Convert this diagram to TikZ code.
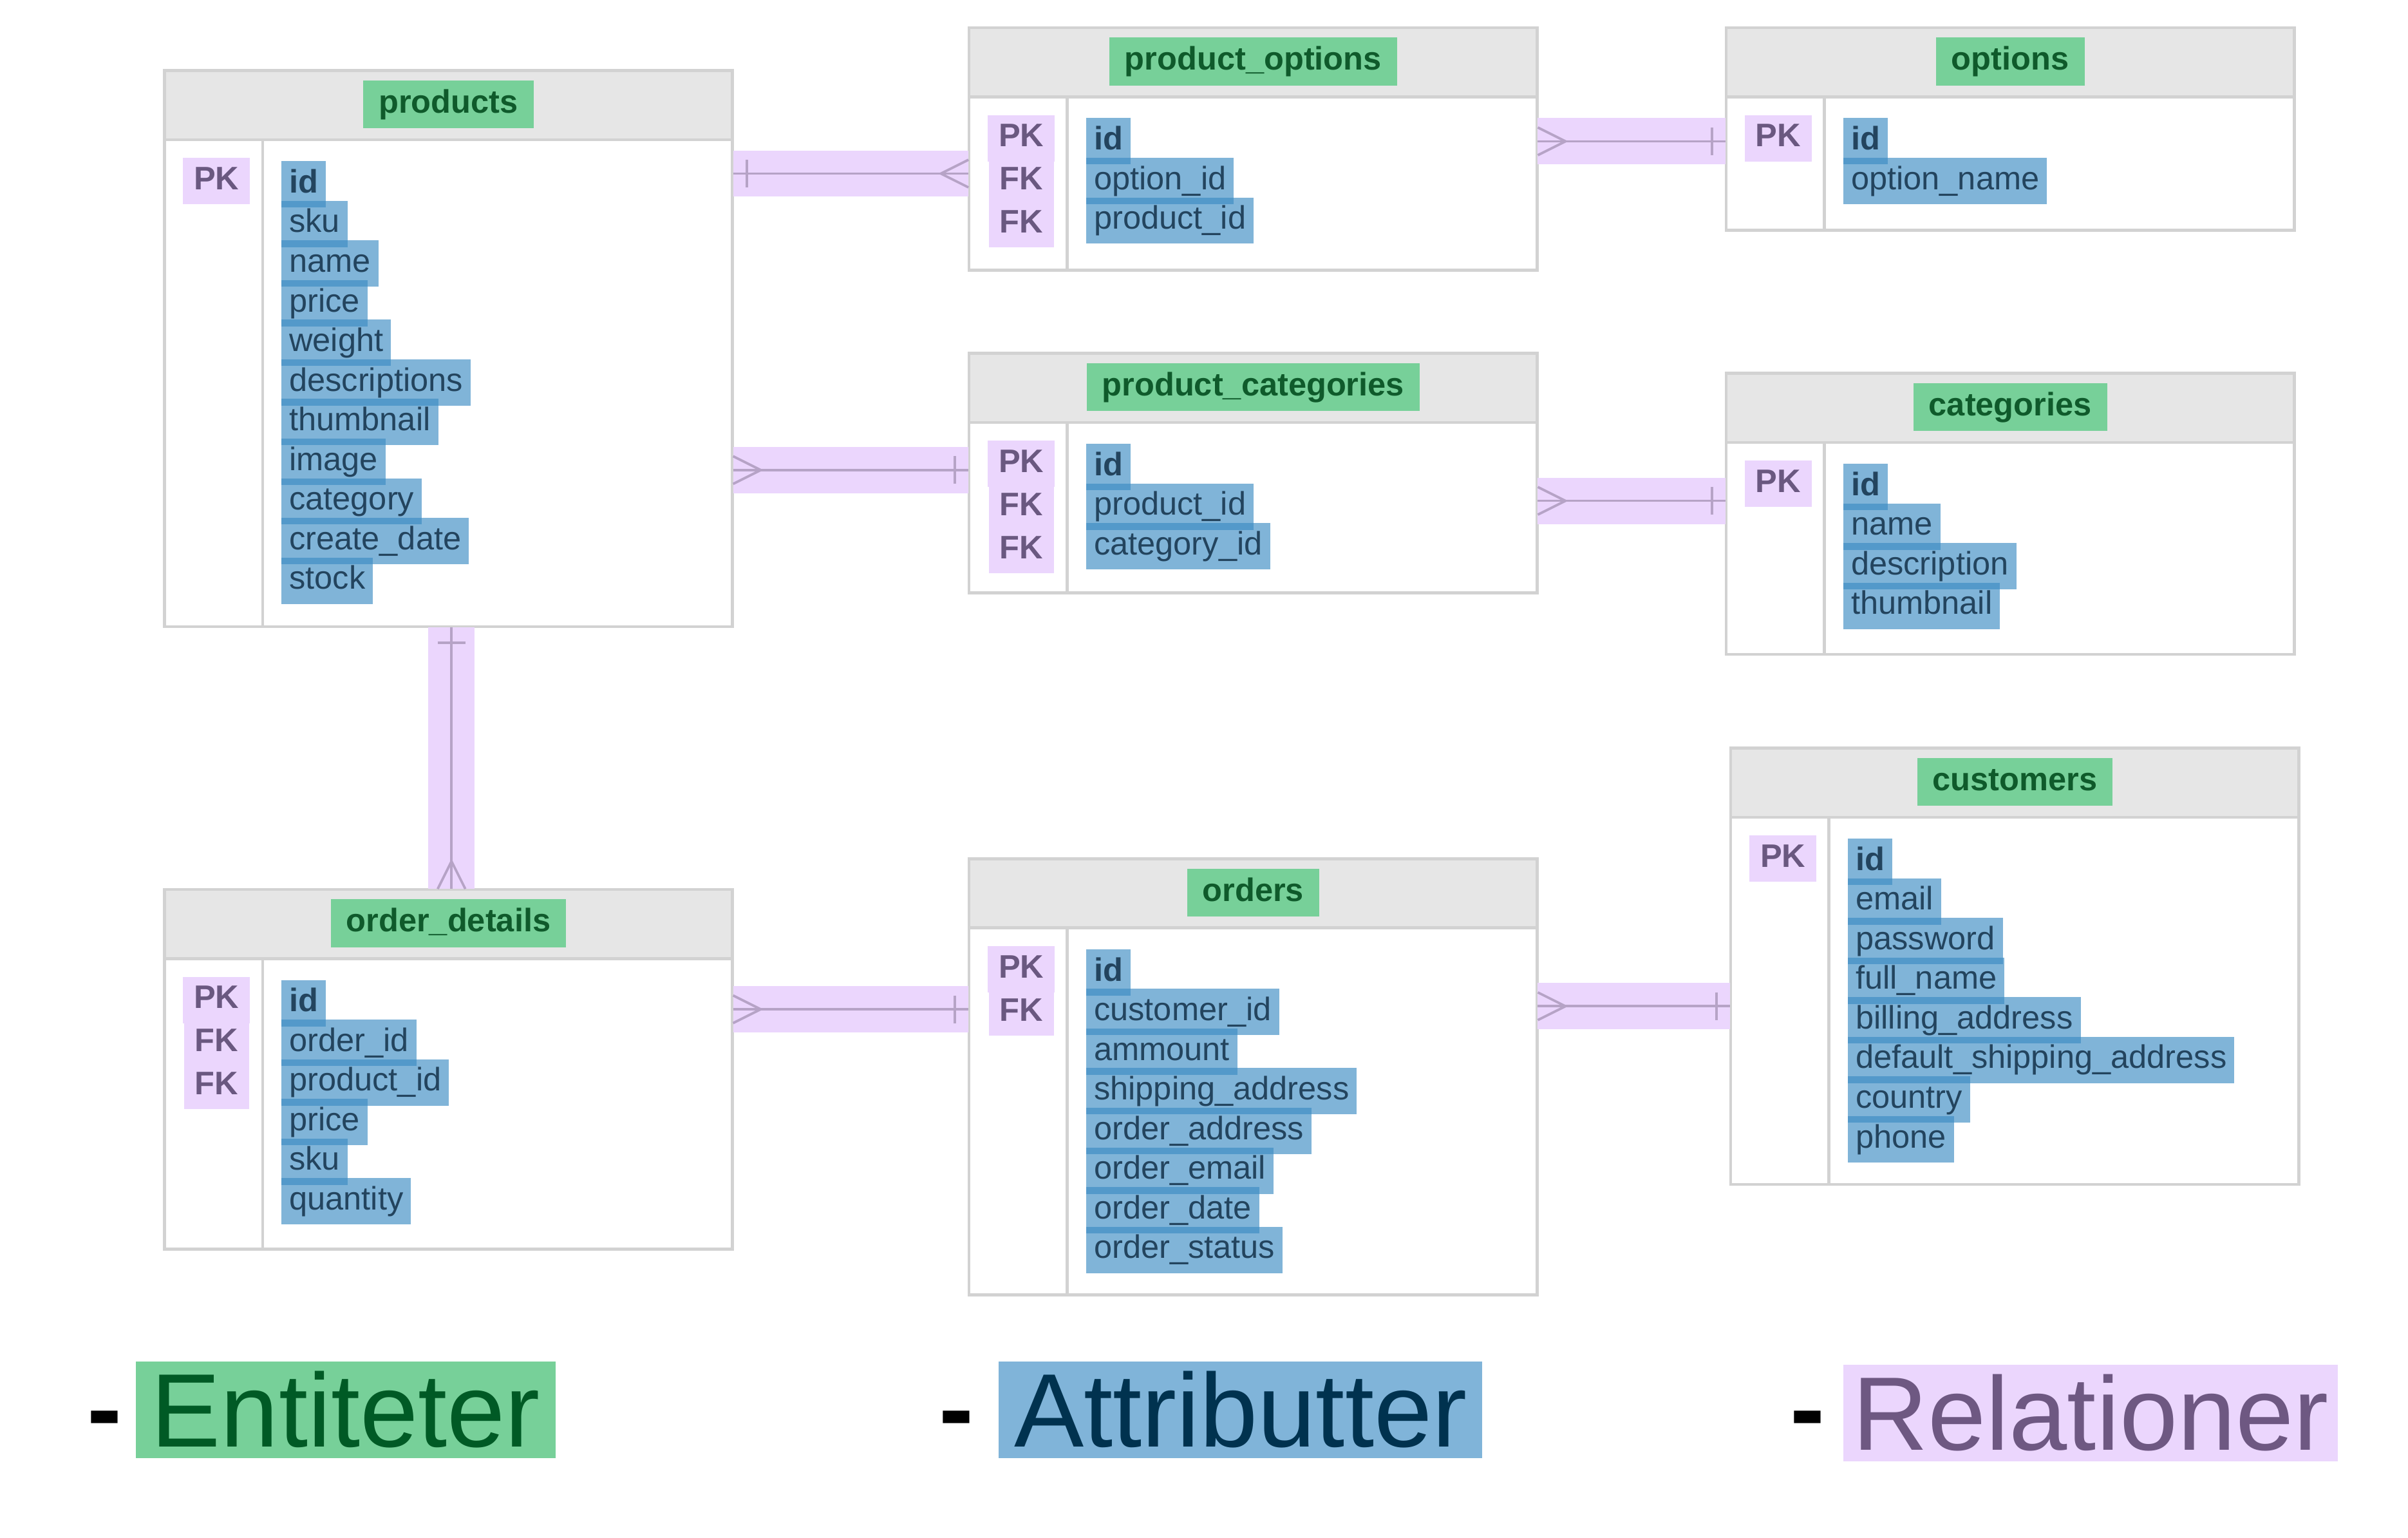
\documentclass[tikz,border=0pt]{standalone}
\usepackage{fontspec}
\setmainfont{Liberation Sans}
\usetikzlibrary{fit}
\definecolor{hlgreen}{HTML}{77D099}
\definecolor{titlegreen}{HTML}{0F5A2B}
\definecolor{hlblue}{HTML}{3C8CC4}
\definecolor{attrtext}{HTML}{23445E}
\definecolor{hlpurple}{HTML}{EBD6FD}
\definecolor{keytext}{HTML}{6A5880}
\definecolor{relline}{HTML}{B6A3C6}
\definecolor{headgray}{HTML}{E6E6E6}
\definecolor{boxgray}{HTML}{D2D2D2}
\definecolor{legblue}{HTML}{80B4D9}
\definecolor{entdark}{HTML}{005A25}
\definecolor{attdark}{HTML}{00324F}
\definecolor{reldark}{HTML}{6E5882}
\begin{document}
\begin{tikzpicture}
  [x=0.0199cm,y=-0.0199cm,
   every node/.style={font=\fontsize{12}{14}\selectfont},
   tbl/.style={draw=boxgray,line width=1.1pt},
   tablehead/.style={fill=headgray,draw=boxgray,line width=1.1pt},
   tabletitle/.style={fill=hlgreen,text=titlegreen,font=\fontsize{12}{14}\selectfont\bfseries,text height=0.31cm,text depth=0.09cm,inner xsep=0.2cm,inner ysep=0.11cm},
   keybox/.style={fill=hlpurple,text=keytext,font=\fontsize{12}{14}\selectfont\bfseries,text height=0.31cm,text depth=0.09cm,inner xsep=0.14cm,inner ysep=0.1cm},
   attr/.style={anchor=west,fill=hlblue,fill opacity=0.65,text opacity=1,text=attrtext,text height=0.31cm,text depth=0.09cm,inner xsep=0.1cm,inner ysep=0.1cm},
   relband/.style={hlpurple,line width=0.6cm},
   rel/.style={relline,line width=0.9pt},
   legdash/.style={font=\fontsize{38.5}{40}\selectfont\bfseries,anchor=base},
   legword/.style={font=\fontsize{38.5}{40}\selectfont,anchor=base west,inner xsep=0.2cm,inner ysep=0.13cm}]
 \useasboundingbox[fill=white] (0,0) rectangle (1568,1001);

 \foreach \n/\xa/\ya/\xb/\yb/\ttl/\attrs/\keys in {
   products/107/46/477/408/products/{id,sku,name,price,weight,descriptions,thumbnail,image,category,create\_date,stock}/{PK},
   product-options/631/18/1001/176/product\_options/{id,option\_id,product\_id}/{PK,FK,FK},
   options/1124/18/1494/150/options/{id,option\_name}/{PK},
   product-categories/631/230/1001/386/product\_categories/{id,product\_id,category\_id}/{PK,FK,FK},
   categories/1124/243/1494/426/categories/{id,name,description,thumbnail}/{PK},
   customers/1127/487/1497/771/customers/{id,email,password,full\_name,billing\_address,default\_shipping\_address,country,phone}/{PK},
   order-details/107/579/477/813/order\_details/{id,order\_id,product\_id,price,sku,quantity}/{PK,FK,FK},
   orders/631/559/1001/843/orders/{id,customer\_id,ammount,shipping\_address,order\_address,order\_email,order\_date,order\_status}/{PK,FK}}{
   \node[fit={(\xa,\ya) (\xb,\yb)},inner sep=0pt] (\n) {};
   \draw[tbl] (\xa,\ya) rectangle (\xb,\yb);
   \draw[tablehead] (\xa,\ya) rectangle (\xb,{\ya+45});
   \draw[tbl] ({\xa+64},{\ya+45}) -- ({\xa+64},\yb);
   \node[tabletitle] (\n-t) at ({(\xa+\xb)/2},{\ya+22}) {\ttl};
   \foreach \k [count=\j] in \keys
     \node[keybox] (\n-k\j) at ({\xa+34},{\ya+72+28*(\j-1)}) {\k};
   \foreach \a [count=\i] in \attrs
     \node[attr] (\n-a\i) at ({\xa+76},{\ya+74+25.8*(\i-1)}) {\ifnum\i=1 \bfseries\fi\a};
 }

 \foreach \from/\to/\y in {products/product-options/113,product-options/options/92,products/product-categories/306,product-categories/categories/326,order-details/orders/657,orders/customers/655}{
   \draw[relband] (\from.east |- 0,\y) -- (\to.west |- 0,\y);
   \draw[rel] (\from.east |- 0,\y) -- (\to.west |- 0,\y);
 }
 \draw[relband] (products.south -| 294,0) -- (order-details.north -| 294,0);
 \draw[rel] (products.south -| 294,0) -- (order-details.north -| 294,0);

 \draw[rel] (products.east |- 0,113) ++(9,-9) -- ++(0,18);
 \draw[rel] (product-options.west |- 0,113) ++(0,-9) -- ++(-18,9) -- ++(18,9);
 \draw[rel] (product-options.east |- 0,92) ++(0,-9) -- ++(18,9) -- ++(-18,9);
 \draw[rel] (options.west |- 0,92) ++(-9,-9) -- ++(0,18);
 \draw[rel] (products.east |- 0,306) ++(0,-9) -- ++(18,9) -- ++(-18,9);
 \draw[rel] (product-categories.west |- 0,306) ++(-9,-9) -- ++(0,18);
 \draw[rel] (product-categories.east |- 0,326) ++(0,-9) -- ++(18,9) -- ++(-18,9);
 \draw[rel] (categories.west |- 0,326) ++(-9,-9) -- ++(0,18);
 \draw[rel] (order-details.east |- 0,657) ++(0,-9) -- ++(18,9) -- ++(-18,9);
 \draw[rel] (orders.west |- 0,657) ++(-9,-9) -- ++(0,18);
 \draw[rel] (orders.east |- 0,655) ++(0,-9) -- ++(18,9) -- ++(-18,9);
 \draw[rel] (customers.west |- 0,655) ++(-9,-9) -- ++(0,18);
 \draw[rel] (products.south -| 294,0) ++(-9,10) -- ++(18,0);
 \draw[rel] (order-details.north -| 294,0) ++(-9,0) -- ++(9,-18) -- ++(9,18);

 \node[legdash] (ent-dash) at (68,940) {-};
 \node[legword,fill=hlgreen,text=entdark] (ent) at (88,942) {Entiteter};
 \node[legdash] (att-dash) at (623,940) {-};
 \node[legword,fill=legblue,text=attdark] (att) at (650,942) {Attributter};
 \node[legdash] (rels-dash) at (1177,940) {-};
 \node[legword,fill=hlpurple,text=reldark,inner xsep=0.12cm] (rels) at (1200,944) {Relationer};
\end{tikzpicture}
\end{document}
